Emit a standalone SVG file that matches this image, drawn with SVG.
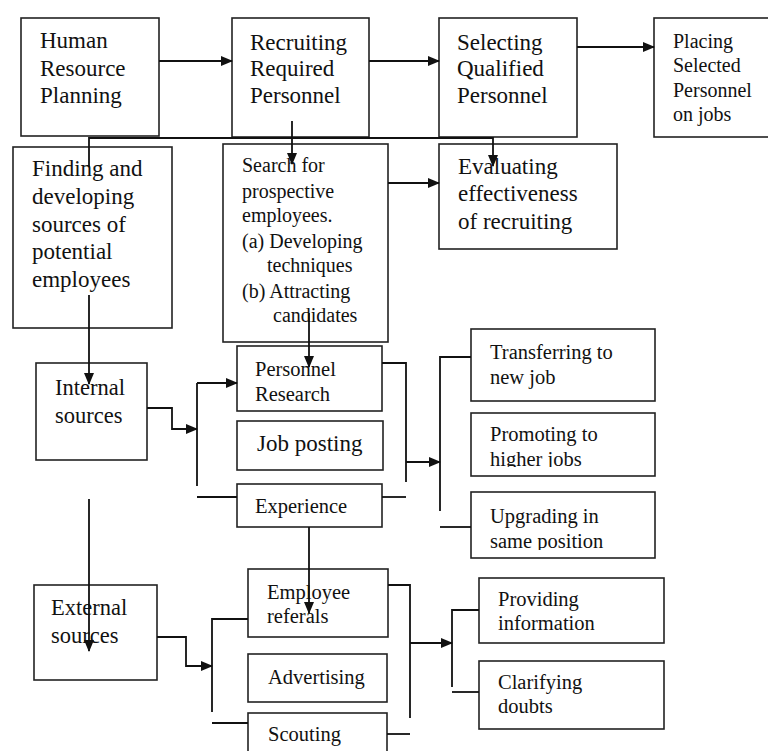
<svg xmlns="http://www.w3.org/2000/svg" width="768" height="751" viewBox="0 0 768 751">
<style>
.box{fill:#fff;stroke:#222;stroke-width:1.6}
.ln{fill:none;stroke:#111;stroke-width:1.8}
.ar{fill:none;stroke:#111;stroke-width:1.8;marker-end:url(#ah)}
text{font-family:"Liberation Serif","Times New Roman",serif;fill:#111}
.l{font-size:23px}
.m{font-size:22.5px}
.s{font-size:20.5px}
.t{font-size:20px}
</style>
<defs>
<marker id="ah" markerWidth="12" markerHeight="10" refX="11" refY="5" orient="auto" markerUnits="userSpaceOnUse">
<path d="M0,0 L12,5 L0,10 Z" fill="#111"/>
</marker>
<clipPath id="cpProm"><rect x="471" y="413" width="184" height="54"/></clipPath>
<clipPath id="cpUpg"><rect x="471" y="492" width="184" height="58"/></clipPath>
</defs>
<rect width="768" height="751" fill="#fff"/>

<g id="hrp"><rect class="box" x="21" y="18" width="138" height="118"/>
<text class="l" x="40" y="48">Human</text><text class="l" x="40" y="76">Resource</text><text class="l" x="40" y="103">Planning</text></g>
<g id="recruiting"><rect class="box" x="232" y="18" width="137" height="119"/>
<text class="l" x="250" y="50">Recruiting</text><text class="l" x="250" y="76">Required</text><text class="l" x="250" y="103">Personnel</text></g>
<g id="selecting"><rect class="box" x="439" y="18" width="138" height="119"/>
<text class="l" x="457" y="50">Selecting</text><text class="l" x="457" y="76">Qualified</text><text class="l" x="457" y="103">Personnel</text></g>
<g id="placing"><rect class="box" x="654" y="18" width="120" height="119"/>
<text class="t" x="673" y="48">Placing</text><text class="t" x="673" y="72">Selected</text><text class="t" x="673" y="97">Personnel</text><text class="t" x="673" y="121">on jobs</text></g>

<g id="finding"><rect class="box" x="13" y="147" width="159" height="181"/>
<text class="l" x="32" y="176">Finding and</text><text class="l" x="32" y="204">developing</text><text class="l" x="32" y="232">sources of</text><text class="l" x="32" y="259">potential</text><text class="l" x="32" y="287">employees</text></g>
<g id="search"><rect class="box" x="223" y="144" width="165" height="198"/>
<text class="t" x="242" y="172">Search for</text><text class="t" x="242" y="198">prospective</text><text class="t" x="242" y="222">employees.</text>
<text class="t" x="242" y="248">(a) Developing</text><text class="t" x="267" y="272">techniques</text>
<text class="t" x="242" y="298">(b) Attracting</text><text class="t" x="273" y="322">candidates</text></g>
<g id="evaluating"><rect class="box" x="439" y="144" width="178" height="105"/>
<text class="l" x="458" y="174">Evaluating</text><text class="l" x="458" y="201">effectiveness</text><text class="l" x="458" y="229">of recruiting</text></g>

<g id="internal"><rect class="box" x="36" y="363" width="111" height="97"/>
<text class="m" x="55" y="395">Internal</text><text class="m" x="55" y="423">sources</text></g>
<g id="personnel-research"><rect class="box" x="237" y="346" width="145" height="65"/>
<text class="s" x="255" y="376">Personnel</text><text class="s" x="255" y="401">Research</text></g>
<g id="job-posting"><rect class="box" x="237" y="421" width="146" height="49"/>
<text class="l" x="257" y="451">Job posting</text></g>
<g id="experience"><rect class="box" x="237" y="484" width="145" height="43"/>
<text class="s" x="255" y="513">Experience</text></g>

<g id="transferring"><rect class="box" x="471" y="329" width="184" height="72"/>
<text class="s" x="490" y="359">Transferring to</text><text class="s" x="490" y="384">new job</text></g>
<g id="promoting"><rect class="box" x="471" y="413" width="184" height="63"/>
<g clip-path="url(#cpProm)"><text class="s" x="490" y="441">Promoting to</text><text class="s" x="490" y="466">higher jobs</text></g></g>
<g id="upgrading"><rect class="box" x="471" y="492" width="184" height="66"/>
<g clip-path="url(#cpUpg)"><text class="s" x="490" y="523">Upgrading in</text><text class="s" x="490" y="548">same position</text></g></g>

<g id="external"><rect class="box" x="34" y="585" width="123" height="95"/>
<text class="m" x="51" y="615">External</text><text class="m" x="51" y="643">sources</text></g>
<g id="employee-referals"><rect class="box" x="248" y="569" width="140" height="68"/>
<text class="s" x="267" y="599">Employee</text><text class="s" x="267" y="623">referals</text></g>
<g id="advertising"><rect class="box" x="248" y="654" width="139" height="48"/>
<text class="s" x="268" y="684">Advertising</text></g>
<g id="scouting"><rect class="box" x="248" y="713" width="139" height="50"/>
<text class="s" x="268" y="741">Scouting</text></g>

<g id="providing"><rect class="box" x="479" y="578" width="185" height="65"/>
<text class="s" x="498" y="606">Providing</text><text class="s" x="498" y="630">information</text></g>
<g id="clarifying"><rect class="box" x="479" y="661" width="185" height="68"/>
<text class="s" x="498" y="689">Clarifying</text><text class="s" x="498" y="713">doubts</text></g>

<g id="connectors">
<path class="ar" d="M159,61 H232"/>
<path class="ar" d="M369,61 H439"/>
<path class="ar" d="M577,47 H654"/>
<path class="ar" d="M388,183 H439"/>
<path class="ar" d="M89,167 V138 H493 V166"/>
<path class="ar" d="M292,121 V164"/>
<path class="ar" d="M89,295 V384"/>
<path class="ar" d="M309,313 V367"/>
<path class="ar" d="M147,408 H172 V429 H197"/>
<path class="ln" d="M197,486 V383"/>
<path class="ar" d="M197,383 H237"/>
<path class="ln" d="M197,497 H237"/>
<path class="ln" d="M382,363 H406 V482"/>
<path class="ln" d="M382,497 H406"/>
<path class="ar" d="M406,462 H440"/>
<path class="ln" d="M471,357 H440 V511"/>
<path class="ln" d="M440,527 H471"/>
<path class="ar" d="M89,499 V651"/>
<path class="ar" d="M309,527 V613"/>
<path class="ar" d="M157,637 H186 V666 H212"/>
<path class="ln" d="M248,619 H212 V712"/>
<path class="ln" d="M212,723 H248"/>
<path class="ln" d="M388,585 H410 V718"/>
<path class="ln" d="M387,734 H410"/>
<path class="ar" d="M410,643 H452"/>
<path class="ln" d="M479,610 H452 V687"/>
<path class="ln" d="M452,692 H479"/>
</g>
</svg>
